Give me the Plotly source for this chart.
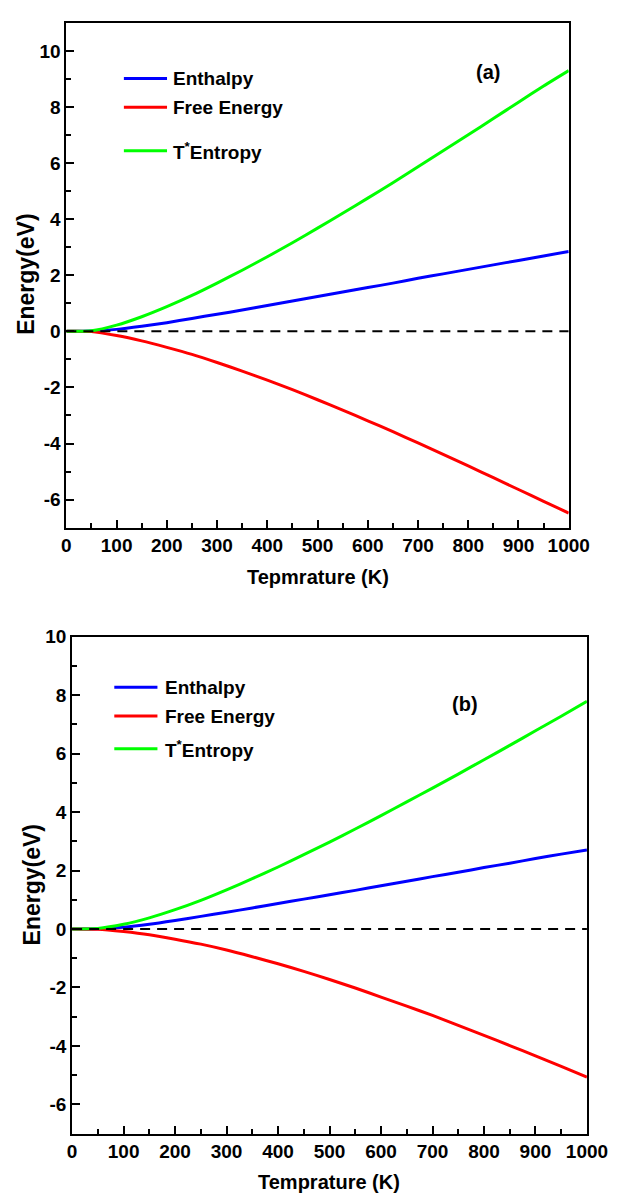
import plotly.graph_objects as go

# Temperature grid (K)
temperature = [0, 50, 100, 150, 200, 250, 300, 350, 400, 450, 500,
               550, 600, 650, 700, 750, 800, 850, 900, 950, 1000]

# Panel (a) energies (eV)
enthalpy_a = [0, 0.01, 0.07, 0.18, 0.31, 0.46, 0.61, 0.76, 0.92, 1.08, 1.24,
              1.40, 1.56, 1.72, 1.89, 2.05, 2.21, 2.37, 2.53, 2.69, 2.85]
free_energy_a = [0, -0.01, -0.15, -0.34, -0.57, -0.82, -1.11, -1.42, -1.74, -2.08, -2.44,
                 -2.81, -3.19, -3.58, -3.98, -4.39, -4.80, -5.22, -5.64, -6.06, -6.48]
t_entropy_a = [0, 0.02, 0.22, 0.52, 0.88, 1.28, 1.72, 2.18, 2.66, 3.16, 3.68,
               4.21, 4.75, 5.30, 5.87, 6.44, 7.01, 7.59, 8.17, 8.75, 9.30]

# Panel (b) energies (eV)
enthalpy_b = [0, 0.01, 0.06, 0.16, 0.29, 0.43, 0.57, 0.72, 0.87, 1.02, 1.17,
              1.32, 1.48, 1.63, 1.79, 1.94, 2.10, 2.25, 2.41, 2.56, 2.70]
free_energy_b = [0, -0.01, -0.09, -0.20, -0.35, -0.52, -0.72, -0.95, -1.19, -1.45, -1.73,
                 -2.02, -2.33, -2.64, -2.96, -3.30, -3.64, -3.99, -4.34, -4.70, -5.07]
t_entropy_b = [0, 0.02, 0.16, 0.38, 0.66, 0.98, 1.34, 1.72, 2.12, 2.54, 2.97,
               3.42, 3.88, 4.35, 4.82, 5.30, 5.79, 6.28, 6.78, 7.28, 7.79]

# Zero reference line
zero_x = [0, 1000]
zero_y = [0, 0]

# Tick values and labels
x_ticks = [0, 100, 200, 300, 400, 500, 600, 700, 800, 900, 1000]
x_tick_text = ["0", "100", "200", "300", "400", "500", "600", "700", "800", "900", "1000"]
y_ticks = [-6, -4, -2, 0, 2, 4, 6, 8, 10]
y_tick_text = ["-6", "-4", "-2", "0", "2", "4", "6", "8", "10"]

series_colors = ["#0000FF", "#FF0000", "#00FF00"]

W, H = 630, 1195
FONT = "Liberation Sans, Arial, sans-serif"


def px_x(p):
    return p / W


def px_y(p):
    return 1 - p / H


fig = go.Figure()

panels = [
    ("x", "y", [enthalpy_a, free_energy_a, t_entropy_a]),
    ("x2", "y2", [enthalpy_b, free_energy_b, t_entropy_b]),
]
for xa, ya, curves in panels:
    for vals, col in zip(curves, series_colors):
        fig.add_trace(go.Scatter(
            x=temperature, y=vals, mode="lines",
            line=dict(color=col, width=3, shape="spline", smoothing=0.6),
            xaxis=xa, yaxis=ya, showlegend=False, hoverinfo="skip"))
    fig.add_trace(go.Scatter(
        x=zero_x, y=zero_y, mode="lines",
        line=dict(color="black", width=2, dash="10px,7px"),
        xaxis=xa, yaxis=ya, showlegend=False, hoverinfo="skip"))

tickfont = dict(family=FONT, size=19, color="black", weight="bold")
common = dict(
    showline=True, linecolor="black", linewidth=2, mirror=True,
    ticks="inside", ticklen=8, tickwidth=2, tickcolor="black",
    showgrid=False, zeroline=False, tickfont=tickfont,
)
xcommon = dict(common, range=[0, 1000], tickmode="array",
               tickvals=x_ticks, ticktext=x_tick_text,
               minor=dict(dtick=50, tick0=0, ticks="inside", ticklen=5,
                          tickwidth=2, tickcolor="black"))
ycommon = dict(common, tickmode="array", tickvals=y_ticks, ticktext=y_tick_text,
               minor=dict(dtick=1, tick0=0, ticks="inside", ticklen=5,
                          tickwidth=2, tickcolor="black"))

fig.update_layout(
    width=W, height=H,
    margin=dict(l=0, r=0, t=0, b=0),
    paper_bgcolor="white", plot_bgcolor="white",
    xaxis=dict(xcommon, domain=[px_x(64), px_x(588)], anchor="y"),
    yaxis=dict(ycommon, domain=[px_y(522), px_y(13)], range=[-7, 11], anchor="x"),
    xaxis2=dict(xcommon, domain=[px_x(70), px_x(607)], anchor="y2"),
    yaxis2=dict(ycommon, domain=[px_y(1133), px_y(632)], range=[-7, 10], anchor="x2"),
)

annotations = []
shapes = []

# Axis titles
title_font = dict(family=FONT, size=20, color="black", weight="bold")
ytitle_font = dict(family=FONT, size=23, color="black", weight="bold")
annotations += [
    dict(text="Tepmrature (K)", x=px_x(326), y=px_y(572), xref="paper", yref="paper",
         showarrow=False, font=title_font, xanchor="center", yanchor="middle"),
    dict(text="Temprature (K)", x=px_x(338), y=px_y(1182), xref="paper", yref="paper",
         showarrow=False, font=title_font, xanchor="center", yanchor="middle"),
    dict(text="Energy(eV)", x=px_x(22), y=px_y(267), xref="paper", yref="paper",
         showarrow=False, font=ytitle_font, textangle=-90,
         xanchor="center", yanchor="middle"),
    dict(text="Energy(eV)", x=px_x(28), y=px_y(882), xref="paper", yref="paper",
         showarrow=False, font=ytitle_font, textangle=-90,
         xanchor="center", yanchor="middle"),
]

# Panel labels
label_font = dict(family=FONT, size=19, color="black", weight="bold")
annotations += [
    dict(text="(a)", x=px_x(504), y=px_y(63), xref="paper", yref="paper",
         showarrow=False, font=dict(label_font, size=20), xanchor="center", yanchor="middle"),
    dict(text="(b)", x=px_x(480), y=px_y(700), xref="paper", yref="paper",
         showarrow=False, font=dict(label_font, size=20), xanchor="center", yanchor="middle"),
]

# Legend keys and labels for each panel
legend_specs = [
    (124, 169, 173, [69, 98, 142],
     ["Enthalpy", "Free Energy", "T<sup>*</sup>Entropy"]),
    (114, 159, 165, [683, 712, 745],
     ["Enthalpy", "Free Energy", "T<sup>*</sup>Entropy"]),
]
for x0, x1, xt, ys, labels in legend_specs:
    for yy, lab, col in zip(ys, labels, series_colors):
        shapes.append(dict(type="line", xref="paper", yref="paper",
                           x0=px_x(x0), x1=px_x(x1), y0=px_y(yy), y1=px_y(yy),
                           line=dict(color=col, width=3)))
        annotations.append(dict(text=lab, x=px_x(xt), y=px_y(yy), xref="paper", yref="paper",
                                showarrow=False, font=label_font,
                                xanchor="left", yanchor="middle"))

fig.update_layout(annotations=annotations, shapes=shapes)

fig.write_html("out.html")
